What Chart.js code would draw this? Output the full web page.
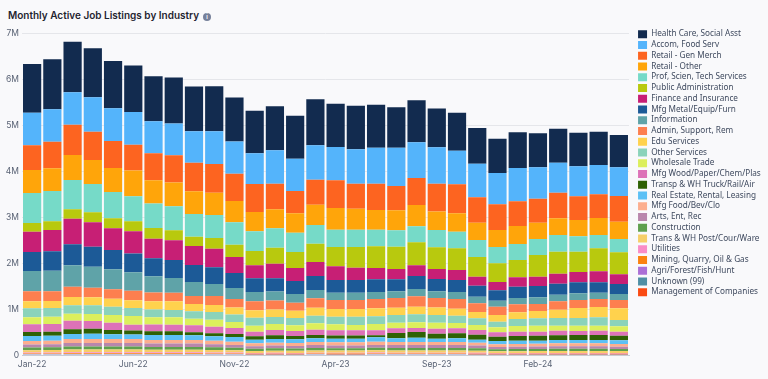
<!DOCTYPE html>
<html>
<head>
<meta charset="utf-8">
<script src="https://cdn.jsdelivr.net/npm/chart.js@4"></script>
<style>
  html, body { margin: 0; padding: 0; background: #f9f9fb; }
  #wrap { position: relative; width: 768px; height: 379px; overflow: hidden; }
  #title { position: absolute; left: 8px; top: 9px; font: 600 10px Inter, sans-serif; line-height: 13px; color: #1f2430; white-space: nowrap; }
  #title .info { display: inline-block; width: 8px; height: 8px; line-height: 8px; margin-left: 4px; border-radius: 50%; background: #76809a; color: #fff; font-size: 6px; text-align: center; vertical-align: 0; }
  canvas { position: absolute; left: 0; top: 0; }
</style>
</head>
<body>
<div id="wrap">
  <div id="title">Monthly Active Job Listings by Industry<span class="info">i</span></div>
  <canvas id="stackChart" width="768" height="379"></canvas>
</div>
<script>
// months along the x axis
const months = ['Jan-22','Feb-22','Mar-22','Apr-22','May-22','Jun-22','Jul-22','Aug-22','Sep-22','Oct-22','Nov-22','Dec-22',
  'Jan-23','Feb-23','Mar-23','Apr-23','May-23','Jun-23','Jul-23','Aug-23','Sep-23','Oct-23','Nov-23','Dec-23',
  'Jan-24','Feb-24','Mar-24','Apr-24','May-24','Jun-24'];

// values in thousands of listings
const healthCare = [1060,1088,1101,1066,1029,1016,979,1001,979,979,957,927,957,936,1001,942,949,936,879,914,840,827,777,746,777,740,740,731,725,703];
const accomFood = [709,705,705,749,712,712,696,688,683,712,705,668,733,703,749,725,749,783,833,777,792,731,731,681,725,683,653,653,638,625];
const retailGen = [537,579,659,616,588,557,588,596,622,625,594,609,551,485,544,603,544,572,529,588,609,631,553,559,537,522,557,516,516,559];
const retailOther = [500,494,544,522,522,559,509,514,494,485,463,420,413,422,442,472,457,429,435,463,398,400,376,370,392,355,363,355,370,376];
const profScien = [653,659,638,616,572,544,529,522,494,500,487,429,429,420,407,376,376,361,357,348,376,361,370,355,348,348,363,335,289,289];
const publicAdmin = [189,189,205,218,218,218,239,218,202,233,268,311,348,348,398,420,450,472,485,500,472,472,429,407,376,472,479,442,500,479];
const finance = [442,463,557,531,472,485,420,429,413,405,348,283,311,283,305,298,268,246,224,233,218,218,196,181,205,202,218,224,239,211];
const mfgMetal = [413,422,457,435,420,407,392,392,370,363,326,298,292,283,305,276,276,276,261,283,268,261,239,226,246,246,239,239,226,218];
const information = [442,448,466,457,435,407,357,320,305,261,239,202,196,189,181,159,159,152,146,159,146,152,144,131,137,146,144,146,137,131];
const adminSupport = [218,211,224,209,205,202,187,187,174,196,185,196,196,174,205,196,196,202,211,226,211,211,189,181,174,152,183,174,174,181];
const eduServices = [152,152,181,174,174,174,183,189,159,152,152,161,159,159,174,168,168,174,159,165,159,152,137,146,146,159,181,218,224,255];
const otherServices = [196,189,183,189,181,174,165,159,161,168,163,174,152,159,165,165,181,168,168,174,168,159,146,122,152,161,168,168,183,137];
const wholesale = [152,159,152,152,168,189,161,161,144,152,131,131,131,124,139,131,115,137,122,124,131,115,109,109,124,131,109,115,109,118];
const mfgWood = [168,168,187,168,159,122,144,144,152,144,131,100,115,109,115,109,109,109,102,87,109,109,102,96,94,87,100,87,94,87];
const transpTruck = [87,87,102,109,94,87,81,81,65,65,65,74,81,72,72,74,74,44,115,124,109,109,109,94,102,109,102,109,109,100];
const realEstate = [109,109,109,115,102,102,109,109,102,96,102,78,81,81,81,78,78,96,81,94,72,81,65,72,72,65,72,72,72,81];
const mfgFood = [74,76,85,85,85,83,80,78,78,76,70,61,65,63,68,66,66,70,68,68,68,68,65,56,58,59,61,61,61,57];
const arts = [67,68,76,76,76,76,72,72,72,68,63,56,59,57,62,61,61,64,62,62,62,62,59,51,52,54,56,56,56,52];
const construction = [58,59,66,66,66,66,62,62,62,59,55,48,51,50,54,52,52,55,54,54,54,54,51,44,45,47,48,48,48,45];
const transPost = [52,53,59,59,59,59,55,55,55,53,49,43,46,44,48,47,47,49,48,48,48,48,46,40,41,42,43,43,43,41];
const utilities = [21,22,24,24,24,24,23,23,23,22,20,18,19,18,20,19,19,20,20,20,20,20,19,16,17,17,18,18,18,17];
const mining = [12,13,14,14,14,14,13,13,13,12,12,10,11,10,11,11,11,12,11,11,11,11,11,9,10,10,10,10,10,10];
const agri = [6,6,7,7,7,7,7,7,7,6,6,5,5,5,6,6,6,6,6,6,6,6,5,5,5,5,5,5,5,5];
const unknown99 = [6,6,7,7,7,7,6,6,6,6,5,5,5,5,5,5,5,5,5,5,5,5,5,4,4,4,5,5,5,4];
const management = [9,9,10,10,10,10,10,10,10,9,9,8,8,8,9,8,8,9,9,9,9,9,8,7,7,7,8,8,8,8];

// top of the stack first, same order as the legend
const industries = [
  ['Health Care, Social Asst', healthCare, '#122b4f'],
  ['Accom, Food Serv', accomFood, '#54b4fb'],
  ['Retail - Gen Merch', retailGen, '#fd6420'],
  ['Retail - Other', retailOther, '#ffa50a'],
  ['Prof, Scien, Tech Services', profScien, '#76dac8'],
  ['Public Administration', publicAdmin, '#b8c90e'],
  ['Finance and Insurance', finance, '#c71f75'],
  ['Mfg Metal/Equip/Furn', mfgMetal, '#1c5a97'],
  ['Information', information, '#5fa3a8'],
  ['Admin, Support, Rem', adminSupport, '#fd7f4f'],
  ['Edu Services', eduServices, '#ffd24d'],
  ['Other Services', otherServices, '#8bd3ba'],
  ['Wholesale Trade', wholesale, '#dcef5c'],
  ['Mfg Wood/Paper/Chem/Plas', mfgWood, '#dd72b8'],
  ['Transp & WH Truck/Rail/Air', transpTruck, '#2f6104'],
  ['Real Estate, Rental, Leasing', realEstate, '#5cc0f5'],
  ['Mfg Food/Bev/Clo', mfgFood, '#fcae8e'],
  ['Arts, Ent, Rec', arts, '#b986ac'],
  ['Construction', construction, '#5fa04e'],
  ['Trans & WH Post/Cour/Ware', transPost, '#f6cf68'],
  ['Utilities', utilities, '#f98cc7'],
  ['Mining, Quarry, Oil & Gas', mining, '#fb820f'],
  ['Agri/Forest/Fish/Hunt', agri, '#ab6fd6'],
  ['Unknown (99)', unknown99, '#4f8fa5'],
  ['Management of Companies', management, '#fa4a12']
];

const datasets = industries.slice().reverse().map(([label, values, color]) => ({
  label,
  data: values.map(v => v * 1000),
  backgroundColor: color,
  barPercentage: 0.9,
  categoryPercentage: 1
}));

// fixed legend column, starts a bit right of the plot
const legendColumn = {
  id: 'legendColumn',
  beforeInit(chart) {
    const fit = chart.legend.fit;
    chart.legend.fit = function () {
      fit.call(this);
      this.width = 139;
    };
  },
  afterLayout(chart) {
    chart.legend.left = 635.5;
  }
};

new Chart(document.getElementById('stackChart'), {
  type: 'bar',
  data: { labels: months, datasets },
  plugins: [legendColumn],
  options: {
    responsive: false,
    animation: false,
    layout: { padding: { top: 27.5, left: 3, right: 0, bottom: 0 } },
    plugins: {
      tooltip: { enabled: false },
      legend: {
        position: 'right',
        align: 'start',
        reverse: true,
        labels: {
          boxWidth: 9,
          boxHeight: 8,
          padding: 2.55,
          color: '#3f4a5f',
          font: { family: '"Noto Sans"', size: 8.2 }
        }
      }
    },
    scales: {
      x: {
        stacked: true,
        afterFit(scale) { scale.height = 24; },
        grid: { display: false, drawTicks: false },
        border: { color: '#c9ccd4' },
        ticks: {
          autoSkip: false,
          maxRotation: 0,
          padding: 4,
          color: '#5a6375',
          font: { family: 'Inter', size: 8.5 },
          callback(value, i) { return i % 5 === 0 ? months[i] : ''; }
        }
      },
      y: {
        stacked: true,
        min: 0,
        max: 7000000,
        afterFit(scale) { scale.width = 19; scale.paddingTop = 33.3; },
        border: { display: false },
        grid: { color: '#e5e6ea', drawTicks: false },
        ticks: {
          stepSize: 1000000,
          padding: 3,
          color: '#5a6375',
          font: { family: 'Inter', size: 8.5 },
          callback(value) { return value === 0 ? '0' : (value / 1000000) + 'M'; }
        }
      }
    }
  }
});
</script>
</body>
</html>
